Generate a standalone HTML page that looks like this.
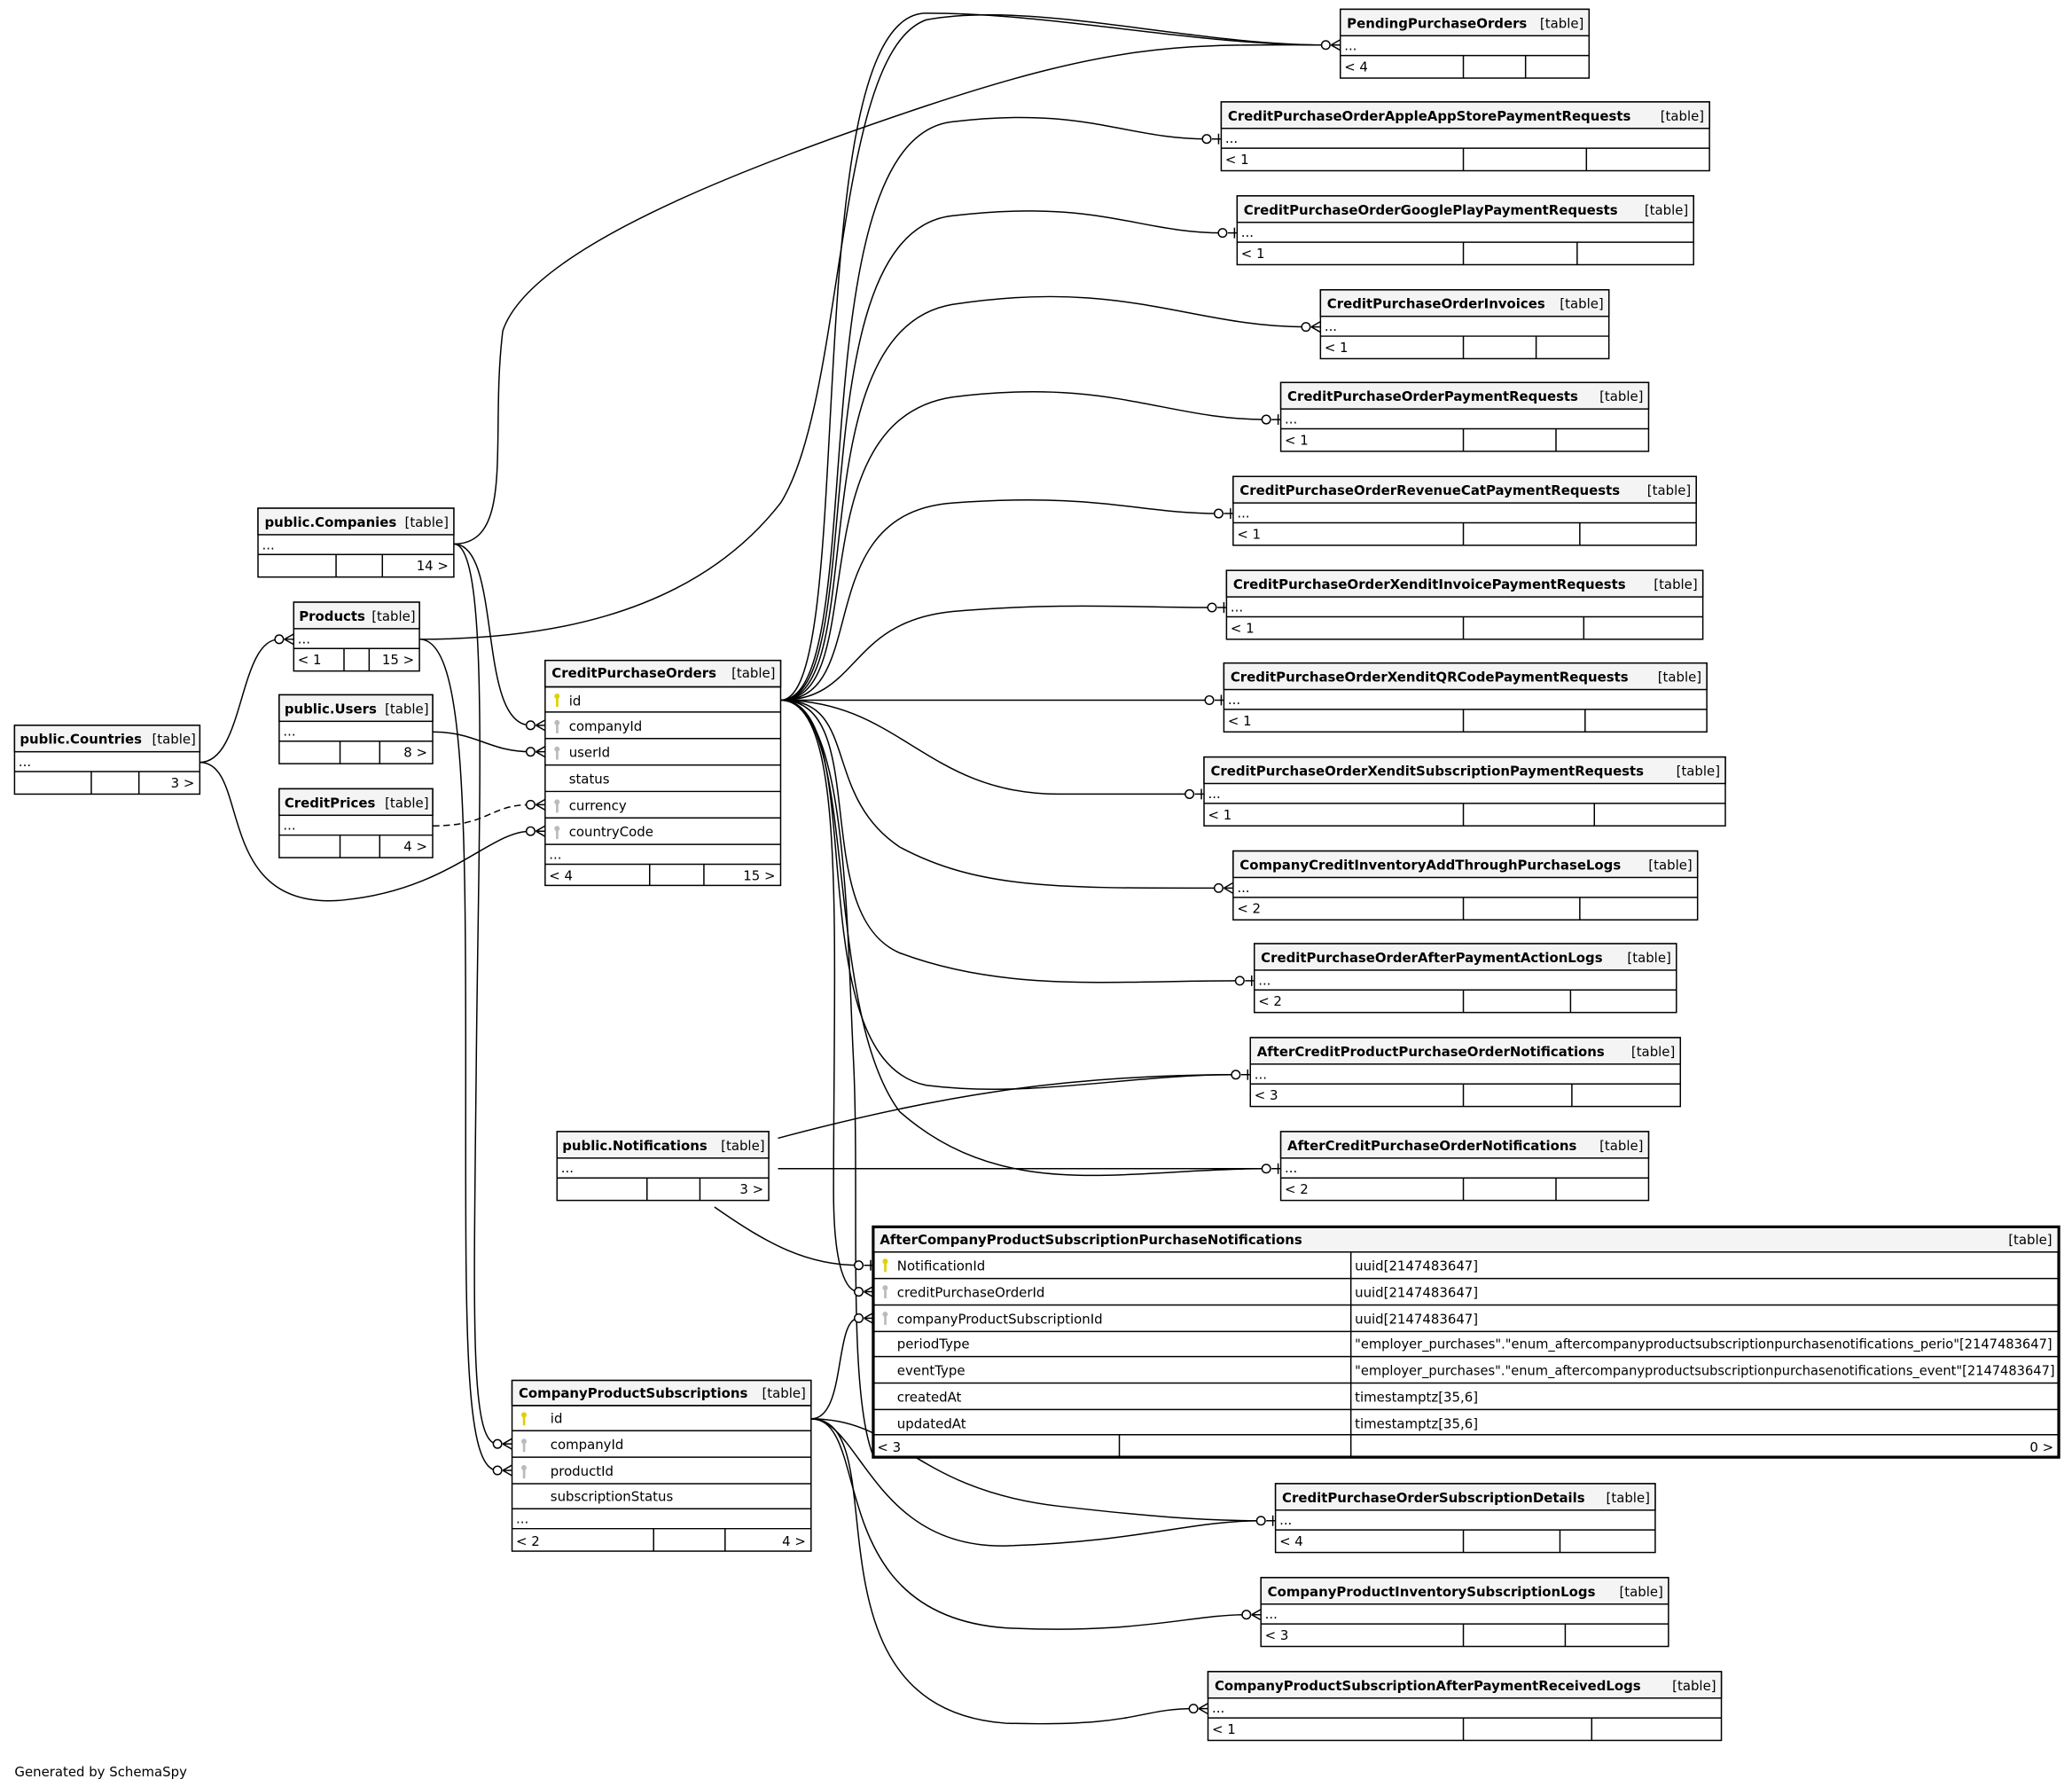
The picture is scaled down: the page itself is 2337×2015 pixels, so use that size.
<!DOCTYPE html>
<html><head><meta charset="utf-8"><style>
html,body{margin:0;padding:0;background:#fff;}
svg{display:block;}
text{font-family:"DejaVu Sans","Liberation Sans",sans-serif;font-size:10px;fill:#000;}
.b{font-weight:bold;}
.e{text-anchor:end;}
.t{fill:#fff;stroke:#000;stroke-width:1;}
.h{fill:#f4f4f4;stroke:#000;stroke-width:1;}
.l{stroke:#000;stroke-width:1;fill:none;}
.c{stroke:#000;stroke-width:1;fill:none;}
.o{fill:#fff;stroke:#000;stroke-width:1;}
</style></head><body>
<svg width="2337" height="2015" viewBox="0 0 1566 1350.2" preserveAspectRatio="none" xmlns="http://www.w3.org/2000/svg">
<rect width="1566" height="1351" fill="#fff"/>
<defs>
<g id="crow"><circle class="o" cx="-11" cy="0" r="3.2"/><path class="c" d="M-7,0 L0,-4 M-7,0 L0,0 M-7,0 L0,4"/></g>
<g id="bar"><circle class="o" cx="-11" cy="0" r="3.2"/><path class="c" d="M-7,0 L0,0 M-2,-4 L-2,4"/></g>
<g id="kY"><circle cx="0" cy="-3" r="2" fill="#e0d000"/><rect x="-0.8" y="-3" width="1.8" height="8" fill="#e0d000"/></g>
<g id="kG"><circle cx="0" cy="-3" r="2" fill="#bbb"/><rect x="-0.8" y="-3" width="1.8" height="8" fill="#bbb"/></g>
</defs>

<g class="c">
<path d="M590,529 C650,529 600,10 700,10 C800,10 900,34 1002,34"/>
<path d="M590,529 C660,529 600,105 720,92 C820,80 850,105 912,105"/>
<path d="M590,529 C660,529 600,176 720,163 C830,150 860,176 924,176"/>
<path d="M590,529 C660,529 600,250 720,230 C850,210 900,247 987,247"/>
<path d="M590,529 C660,529 600,318 720,300 C840,285 880,317 957,317"/>
<path d="M590,529 C660,529 610,388 720,380 C830,372 860,388 921,388"/>
<path d="M590,529 C650,529 640,470 720,462 C800,455 860,459 916,459"/>
<path d="M590,529 L914,529"/>
<path d="M590,529 C680,529 700,600 800,600 L899,600"/>
<path d="M590,529 C650,529 620,600 680,640 C740,672 800,671 921,671"/>
<path d="M590,529 C660,529 610,690 680,720 C760,750 840,741 937,741"/>
<path d="M590,529 C660,529 600,800 700,820 C780,830 850,812 934,812"/>
<path d="M590,529 C650,529 620,760 680,840 C760,910 850,883 957,883"/>
<path d="M590,529 C640,529 630,700 630,900 C630,960 640,976 649,976"/>
<path d="M590,529 C640,529 640,700 645,800 C650,900 640,1050 660,1100"/>
<path d="M343,411 C380,411 360,548 401,548"/>
<path d="M343,411 C390,411 370,330 380,250 C400,190 550,130 700,80 C850,30 900,34 1002,34"/>
<path d="M343,411 C370,411 362,600 360,800 C358,1000 355,1091 376,1091"/>
<path d="M317,483 C400,483 520,470 590,380 C640,300 630,40 700,15 C780,0 900,34 1002,34"/>
<path d="M317,483 C350,483 352,600 352,800 C352,1000 350,1111 376,1111"/>
<path d="M151,576 C185,576 180,483 211,483"/>
<path d="M151,576 C190,576 160,690 260,680 C340,672 370,628 401,628"/>
<path d="M327,553 C360,553 370,568 401,568"/>
<path d="M327,624 C370,624 370,608 401,608" stroke-dasharray="5,3"/>
<path d="M588,860 C700,830 800,812 934,812"/>
<path d="M588,883 L957,883"/>
<path d="M540,912 C580,940 610,956 649,956"/>
<path d="M613,1072 C640,1072 630,996 649,996"/>
<path d="M613,1072 C680,1072 690,1125 800,1138 C870,1146 910,1149 953,1149"/>
<path d="M613,1072 C650,1072 660,1170 760,1168 C860,1165 900,1149 953,1149"/>
<path d="M613,1072 C660,1072 620,1220 760,1230 C860,1235 900,1220 942,1220"/>
<path d="M613,1072 C680,1072 600,1290 760,1302 C860,1305 860,1291 902,1291"/>
</g>
<use href="#crow" x="1013" y="34"/>
<use href="#bar" x="923" y="105"/>
<use href="#bar" x="935" y="176"/>
<use href="#crow" x="998" y="247"/>
<use href="#bar" x="968" y="317"/>
<use href="#bar" x="932" y="388"/>
<use href="#bar" x="927" y="459"/>
<use href="#bar" x="925" y="529"/>
<use href="#bar" x="910" y="600"/>
<use href="#crow" x="932" y="671"/>
<use href="#bar" x="948" y="741"/>
<use href="#bar" x="945" y="812"/>
<use href="#bar" x="968" y="883"/>
<use href="#bar" x="964" y="1149"/>
<use href="#crow" x="953" y="1220"/>
<use href="#crow" x="913" y="1291"/>
<use href="#crow" x="412" y="548"/>
<use href="#crow" x="412" y="568"/>
<use href="#crow" x="412" y="608"/>
<use href="#crow" x="412" y="628"/>
<use href="#crow" x="222" y="483"/>
<use href="#crow" x="387" y="1091"/>
<use href="#crow" x="387" y="1111"/>
<use href="#bar" x="660" y="956"/>
<use href="#crow" x="660" y="976"/>
<use href="#crow" x="660" y="996"/>

<rect class="t" x="1013" y="7" width="188" height="52"/><rect class="h" x="1013" y="7" width="188" height="20"/>
<path class="l" d="M1013,42H1201M1106,42V59M1153,42V59"/>
<text class="b" x="1018" y="21">PendingPurchaseOrders</text><text class="e" x="1197" y="21">[table]</text>
<text x="1016" y="38">...</text><text x="1016" y="54">&lt; 4</text>

<rect class="t" x="923" y="77" width="369" height="52"/><rect class="h" x="923" y="77" width="369" height="20"/>
<path class="l" d="M923,112H1292M1106,112V129M1199,112V129"/>
<text class="b" x="928" y="91">CreditPurchaseOrderAppleAppStorePaymentRequests</text><text class="e" x="1288" y="91">[table]</text>
<text x="926" y="108">...</text><text x="926" y="124">&lt; 1</text>

<rect class="t" x="935" y="148" width="345" height="52"/><rect class="h" x="935" y="148" width="345" height="20"/>
<path class="l" d="M935,183H1280M1106,183V200M1192,183V200"/>
<text class="b" x="940" y="162">CreditPurchaseOrderGooglePlayPaymentRequests</text><text class="e" x="1276" y="162">[table]</text>
<text x="938" y="179">...</text><text x="938" y="195">&lt; 1</text>

<rect class="t" x="998" y="219" width="218" height="52"/><rect class="h" x="998" y="219" width="218" height="20"/>
<path class="l" d="M998,254H1216M1106,254V271M1161,254V271"/>
<text class="b" x="1003" y="233">CreditPurchaseOrderInvoices</text><text class="e" x="1212" y="233">[table]</text>
<text x="1001" y="250">...</text><text x="1001" y="266">&lt; 1</text>

<rect class="t" x="968" y="289" width="278" height="52"/><rect class="h" x="968" y="289" width="278" height="20"/>
<path class="l" d="M968,324H1246M1106,324V341M1176,324V341"/>
<text class="b" x="973" y="303">CreditPurchaseOrderPaymentRequests</text><text class="e" x="1242" y="303">[table]</text>
<text x="971" y="320">...</text><text x="971" y="336">&lt; 1</text>

<rect class="t" x="932" y="360" width="350" height="52"/><rect class="h" x="932" y="360" width="350" height="20"/>
<path class="l" d="M932,395H1282M1106,395V412M1194,395V412"/>
<text class="b" x="937" y="374">CreditPurchaseOrderRevenueCatPaymentRequests</text><text class="e" x="1278" y="374">[table]</text>
<text x="935" y="391">...</text><text x="935" y="407">&lt; 1</text>

<rect class="t" x="927" y="431" width="360" height="52"/><rect class="h" x="927" y="431" width="360" height="20"/>
<path class="l" d="M927,466H1287M1106,466V483M1197,466V483"/>
<text class="b" x="932" y="445">CreditPurchaseOrderXenditInvoicePaymentRequests</text><text class="e" x="1283" y="445">[table]</text>
<text x="930" y="462">...</text><text x="930" y="478">&lt; 1</text>

<rect class="t" x="925" y="501" width="365" height="52"/><rect class="h" x="925" y="501" width="365" height="20"/>
<path class="l" d="M925,536H1290M1106,536V553M1198,536V553"/>
<text class="b" x="930" y="515">CreditPurchaseOrderXenditQRCodePaymentRequests</text><text class="e" x="1286" y="515">[table]</text>
<text x="928" y="532">...</text><text x="928" y="548">&lt; 1</text>

<rect class="t" x="910" y="572" width="394" height="52"/><rect class="h" x="910" y="572" width="394" height="20"/>
<path class="l" d="M910,607H1304M1106,607V624M1205,607V624"/>
<text class="b" x="915" y="586">CreditPurchaseOrderXenditSubscriptionPaymentRequests</text><text class="e" x="1300" y="586">[table]</text>
<text x="913" y="603">...</text><text x="913" y="619">&lt; 1</text>

<rect class="t" x="932" y="643" width="351" height="52"/><rect class="h" x="932" y="643" width="351" height="20"/>
<path class="l" d="M932,678H1283M1106,678V695M1194,678V695"/>
<text class="b" x="937" y="657">CompanyCreditInventoryAddThroughPurchaseLogs</text><text class="e" x="1279" y="657">[table]</text>
<text x="935" y="674">...</text><text x="935" y="690">&lt; 2</text>

<rect class="t" x="948" y="713" width="319" height="52"/><rect class="h" x="948" y="713" width="319" height="20"/>
<path class="l" d="M948,748H1267M1106,748V765M1187,748V765"/>
<text class="b" x="953" y="727">CreditPurchaseOrderAfterPaymentActionLogs</text><text class="e" x="1263" y="727">[table]</text>
<text x="951" y="744">...</text><text x="951" y="760">&lt; 2</text>

<rect class="t" x="945" y="784" width="325" height="52"/><rect class="h" x="945" y="784" width="325" height="20"/>
<path class="l" d="M945,819H1270M1106,819V836M1188,819V836"/>
<text class="b" x="950" y="798">AfterCreditProductPurchaseOrderNotifications</text><text class="e" x="1266" y="798">[table]</text>
<text x="948" y="815">...</text><text x="948" y="831">&lt; 3</text>

<rect class="t" x="968" y="855" width="278" height="52"/><rect class="h" x="968" y="855" width="278" height="20"/>
<path class="l" d="M968,890H1246M1106,890V907M1176,890V907"/>
<text class="b" x="973" y="869">AfterCreditPurchaseOrderNotifications</text><text class="e" x="1242" y="869">[table]</text>
<text x="971" y="886">...</text><text x="971" y="902">&lt; 2</text>

<rect class="t" x="964" y="1121" width="287" height="52"/><rect class="h" x="964" y="1121" width="287" height="20"/>
<path class="l" d="M964,1156H1251M1106,1156V1173M1179,1156V1173"/>
<text class="b" x="969" y="1135">CreditPurchaseOrderSubscriptionDetails</text><text class="e" x="1247" y="1135">[table]</text>
<text x="967" y="1152">...</text><text x="967" y="1168">&lt; 4</text>

<rect class="t" x="953" y="1192" width="308" height="52"/><rect class="h" x="953" y="1192" width="308" height="20"/>
<path class="l" d="M953,1227H1261M1106,1227V1244M1183,1227V1244"/>
<text class="b" x="958" y="1206">CompanyProductInventorySubscriptionLogs</text><text class="e" x="1257" y="1206">[table]</text>
<text x="956" y="1223">...</text><text x="956" y="1239">&lt; 3</text>

<rect class="t" x="913" y="1263" width="388" height="52"/><rect class="h" x="913" y="1263" width="388" height="20"/>
<path class="l" d="M913,1298H1301M1106,1298V1315M1203,1298V1315"/>
<text class="b" x="918" y="1277">CompanyProductSubscriptionAfterPaymentReceivedLogs</text><text class="e" x="1297" y="1277">[table]</text>
<text x="916" y="1294">...</text><text x="916" y="1310">&lt; 1</text>

<rect class="t" x="195" y="384" width="148" height="52"/><rect class="h" x="195" y="384" width="148" height="20"/>
<path class="l" d="M195,419H343M254,419V436M289,419V436"/>
<text class="b" x="200" y="398">public.Companies</text><text class="e" x="339" y="398">[table]</text>
<text x="198" y="415">...</text><text class="e" x="339" y="431">14 &gt;</text>

<rect class="t" x="222" y="455" width="95" height="52"/><rect class="h" x="222" y="455" width="95" height="20"/>
<path class="l" d="M222,490H317M260,490V507M279,490V507"/>
<text class="b" x="226" y="469">Products</text><text class="e" x="314" y="469">[table]</text>
<text x="225" y="486">...</text><text x="225" y="502">&lt; 1</text><text class="e" x="313" y="502">15 &gt;</text>

<rect class="t" x="211" y="525" width="116" height="52"/><rect class="h" x="211" y="525" width="116" height="20"/>
<path class="l" d="M211,560H327M257,560V577M287,560V577"/>
<text class="b" x="215" y="539">public.Users</text><text class="e" x="324" y="539">[table]</text>
<text x="214" y="556">...</text><text class="e" x="323" y="572">8 &gt;</text>

<rect class="t" x="211" y="596" width="116" height="52"/><rect class="h" x="211" y="596" width="116" height="20"/>
<path class="l" d="M211,631H327M257,631V648M287,631V648"/>
<text class="b" x="215" y="610">CreditPrices</text><text class="e" x="324" y="610">[table]</text>
<text x="214" y="627">...</text><text class="e" x="323" y="643">4 &gt;</text>

<rect class="t" x="11" y="548" width="140" height="52"/><rect class="h" x="11" y="548" width="140" height="20"/>
<path class="l" d="M11,583H151M69,583V600M105,583V600"/>
<text class="b" x="15" y="562">public.Countries</text><text class="e" x="148" y="562">[table]</text>
<text x="14" y="579">...</text><text class="e" x="147" y="595">3 &gt;</text>

<rect class="t" x="421" y="855" width="160" height="52"/><rect class="h" x="421" y="855" width="160" height="20"/>
<path class="l" d="M421,890H581M489,890V907M529,890V907"/>
<text class="b" x="425" y="869">public.Notifications</text><text class="e" x="578" y="869">[table]</text>
<text x="424" y="886">...</text><text class="e" x="577" y="902">3 &gt;</text>

<rect class="t" x="412" y="499" width="178" height="170"/><rect class="h" x="412" y="499" width="178" height="20"/>
<path class="l" d="M412,519H590M412,538H590M412,558H590M412,578H590M412,598H590M412,618H590M412,638H590M412,653H590M491,653V669M532,653V669"/>
<text class="b" x="417" y="512">CreditPurchaseOrders</text><text class="e" x="586" y="512">[table]</text>
<use href="#kY" x="421" y="529"/><text x="430" y="533">id</text>
<use href="#kG" x="421" y="549"/><text x="430" y="552">companyId</text>
<use href="#kG" x="421" y="569"/><text x="430" y="572">userId</text>
<text x="430" y="592">status</text>
<use href="#kG" x="421" y="609"/><text x="430" y="612">currency</text>
<use href="#kG" x="421" y="629"/><text x="430" y="632">countryCode</text>
<text x="415" y="649">...</text><text x="415" y="665">&lt; 4</text><text class="e" x="586" y="665">15 &gt;</text>

<rect class="t" x="387" y="1043" width="226" height="129"/><rect class="h" x="387" y="1043" width="226" height="19"/>
<path class="l" d="M387,1062H613M387,1081H613M387,1101H613M387,1121H613M387,1140H613M387,1155H613M494,1155V1172M548,1155V1172"/>
<text class="b" x="392" y="1056">CompanyProductSubscriptions</text><text class="e" x="609" y="1056">[table]</text>
<use href="#kY" x="396" y="1072"/><text x="416" y="1075">id</text>
<use href="#kG" x="396" y="1092"/><text x="416" y="1095">companyId</text>
<use href="#kG" x="396" y="1112"/><text x="416" y="1115">productId</text>
<text x="416" y="1134">subscriptionStatus</text>
<text x="390" y="1151">...</text><text x="390" y="1168">&lt; 2</text><text class="e" x="609" y="1168">4 &gt;</text>

<rect class="t" x="660" y="927" width="896" height="174" style="stroke-width:2.2"/>
<rect x="661" y="928" width="894" height="18" fill="#f4f4f4"/>
<path class="l" d="M660,946H1556M660,966H1556M660,986H1556M660,1006H1556M660,1025H1556M660,1045H1556M660,1065H1556M660,1084H1556M1021,946V1101M846,1084V1101"/>
<text class="b" x="665" y="940">AfterCompanyProductSubscriptionPurchaseNotifications</text><text class="e" x="1551" y="940">[table]</text>
<use href="#kY" x="669" y="956"/><text x="678" y="960">NotificationId</text><text x="1024" y="960">uuid[2147483647]</text>
<use href="#kG" x="669" y="976"/><text x="678" y="980">creditPurchaseOrderId</text><text x="1024" y="980">uuid[2147483647]</text>
<use href="#kG" x="669" y="996"/><text x="678" y="1000">companyProductSubscriptionId</text><text x="1024" y="1000">uuid[2147483647]</text>
<text x="678" y="1019">periodType</text><text x="1024" y="1019" textLength="527" lengthAdjust="spacingAndGlyphs">"employer_purchases"."enum_aftercompanyproductsubscriptionpurchasenotifications_perio"[2147483647]</text>
<text x="678" y="1039">eventType</text><text x="1024" y="1039" textLength="529" lengthAdjust="spacingAndGlyphs">"employer_purchases"."enum_aftercompanyproductsubscriptionpurchasenotifications_event"[2147483647]</text>
<text x="678" y="1059">createdAt</text><text x="1024" y="1059">timestamptz[35,6]</text>
<text x="678" y="1079">updatedAt</text><text x="1024" y="1079">timestamptz[35,6]</text>
<text x="663" y="1097">&lt; 3</text><text class="e" x="1552" y="1097">0 &gt;</text>

<text x="11" y="1342">Generated by SchemaSpy</text>
</svg>
</body></html>
